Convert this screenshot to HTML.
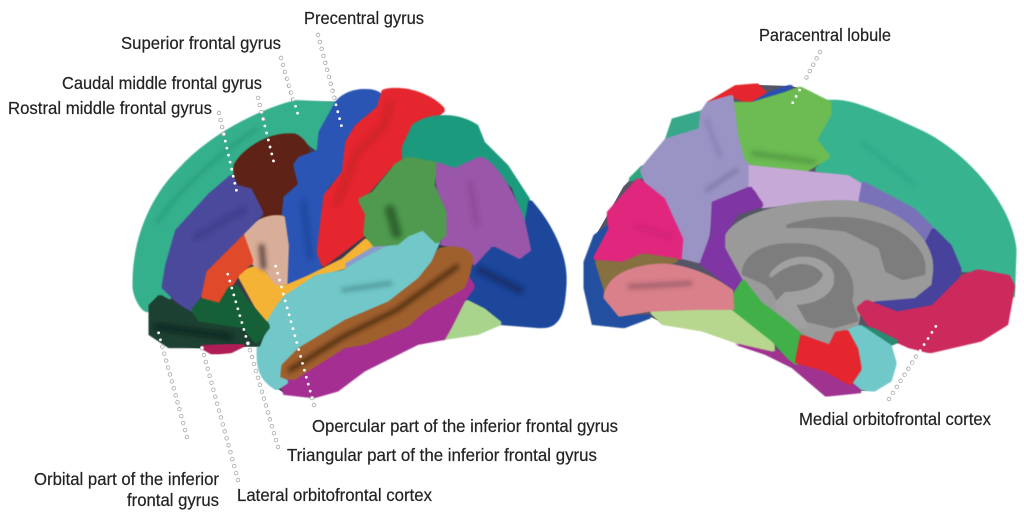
<!DOCTYPE html>
<html><head><meta charset="utf-8"><style>
html,body{margin:0;padding:0;background:#fff;width:1024px;height:512px;overflow:hidden}
svg{display:block}
text{font-family:"Liberation Sans",sans-serif;font-size:17.5px;fill:#222;stroke:#222;stroke-width:.2}
.rg path{filter:url(#d)}
</style></head><body>
<svg width="1024" height="512" viewBox="0 0 1024 512" xmlns="http://www.w3.org/2000/svg">
<defs>
<filter id="d" x="-10%" y="-10%" width="120%" height="120%"><feMorphology operator="dilate" radius="5"/><feGaussianBlur stdDeviation="1.2"/></filter>
<filter id="b" x="-30%" y="-30%" width="160%" height="160%"><feGaussianBlur stdDeviation="7"/></filter>
</defs>
<g transform="translate(130,70) scale(.33333)">
<path fill="#3a3a4a" d="M12,650 C10,520 60,390 150,300 C250,190 400,120 500,95 L620,95 C650,60 720,50 750,75 C800,45 900,70 930,125 L870,165 C920,135 1010,150 1040,170 L1060,220 L1130,290 L1195,395 C1250,450 1310,550 1305,640 C1300,720 1290,770 1230,770 L1110,760 L1040,790 L940,805 L860,820 L700,900 L620,960 L550,980 L465,970 L440,955 C400,930 380,900 385,830 L340,830 L300,845 L250,850 L215,835 L120,830 L60,790 L60,720 C40,720 20,700 12,650Z"/>
<g class="rg">
<path fill="#35b08c" d="M620,100 L500,95 C400,120 250,190 150,300 C60,390 10,520 12,650 C20,700 50,730 60,720 L120,680 L100,620 L140,490 L230,390 L300,330 L320,280 L400,210 L510,200 L565,240 L575,180 Z"/>
<path fill="#5e2314" d="M315,290 C340,240 420,190 490,195 C530,210 545,260 530,270 L495,280 L510,340 L465,380 L455,435 L400,440 L360,395 L315,345 Z"/>
<path fill="#2a55b5" d="M620,100 C650,60 720,50 750,75 L745,110 L680,170 L650,230 L640,300 L590,350 L585,400 L565,545 L570,590 C560,610 500,640 468,645 L472,530 L460,440 L465,385 L510,345 L495,285 L510,265 L565,245 L570,190 Z"/>
<path fill="#e5282f" d="M760,65 C800,45 900,70 940,120 L830,210 L820,270 L780,290 L700,380 L705,490 L640,540 L580,585 L565,545 L585,380 L640,310 L650,220 L680,170 L745,115 Z"/>
<path fill="#1d9a7e" d="M820,235 L850,170 C900,130 980,130 1040,170 L1060,220 L1130,290 L1195,390 L1185,455 L1150,350 L1050,265 L975,295 L915,280 L880,265 L820,270 Z"/>
<path fill="#9a57a8" d="M915,280 L975,300 L1050,265 C1100,280 1170,400 1210,545 L1170,575 L1090,535 L1040,590 L1015,550 L970,530 L935,520 L950,480 L930,400 Z"/>
<path fill="#1d479b" d="M1200,395 C1250,450 1310,550 1305,640 C1300,720 1290,770 1230,770 L1110,760 L1060,720 L1000,690 L1030,640 L1015,600 L1040,590 L1090,535 L1170,575 L1210,545 L1190,450 Z"/>
<path fill="#a9d48b" d="M1010,695 L1060,720 L1110,760 L1040,790 L940,805 L960,770 Z"/>
<path fill="#a52f92" d="M1010,620 L1030,650 L1000,690 L960,770 L940,805 L860,820 L700,900 L620,960 L550,980 L465,970 L450,930 L490,920 L590,860 L830,770 L880,710 Z"/>
<path fill="#a0602f" d="M930,540 C970,525 1020,540 1025,570 L1015,610 L1000,650 L880,720 L830,765 L700,820 L640,830 L490,925 L450,920 L450,880 L500,830 L640,740 L780,680 L870,610 Z"/>
<path fill="#f5b335" d="M325,610 L385,590 L430,640 L470,650 L540,620 L640,570 L710,510 L735,530 L660,585 L560,620 L470,680 L420,760 L380,710 Z"/>
<path fill="#8a9ccc" d="M650,585 L740,530 L785,530 L720,575 L680,605 Z"/>
<path fill="#72c8c8" d="M880,470 L925,515 L900,570 L860,620 L770,690 L640,745 L500,830 L450,880 L445,925 L470,935 L440,955 C400,930 380,900 385,830 C410,760 440,710 470,680 L560,620 L640,605 L720,560 L800,520 L830,495 Z"/>
<path fill="#4f9a4f" d="M800,285 L835,265 L915,280 L910,350 L945,430 L945,490 L920,515 L880,475 L830,495 L800,520 L735,525 L705,490 L710,430 L690,390 L730,370 Z"/>
<path fill="#d9ae98" d="M335,490 C380,450 440,430 460,445 L472,530 L468,640 L440,640 L410,600 L385,590 L365,575 L340,520 Z"/>
<path fill="#e04a2a" d="M335,490 L365,575 L325,610 L300,650 L270,705 L225,690 L210,660 L225,600 Z"/>
<path fill="#4b4a9c" d="M240,375 L305,320 L320,350 L360,360 L395,430 L335,490 L225,600 L210,670 L190,730 L130,680 L100,650 L110,590 L140,485 L190,430 Z"/>
<path fill="#1c3f30" d="M60,710 L90,680 L190,735 L300,760 L340,775 L410,760 L385,825 L340,825 L220,830 L120,830 L60,790 Z"/>
<path fill="#146038" d="M190,720 L215,690 L270,705 L300,655 L320,650 L345,690 L415,770 L380,815 L340,770 L210,750 Z"/>
<path fill="#b01f55" d="M215,830 L340,825 L300,845 L250,850 Z"/>
</g>
</g>
<g transform="translate(130,70) scale(.33333)" fill="none" filter="url(#b)" stroke-linecap="round">
<path stroke="#3a2a28" stroke-width="18" opacity=".7" d="M395,530 L400,590"/>
<path stroke="#2a1a08" stroke-width="14" opacity=".7" d="M480,900 L640,800 L800,720 L980,590"/>
<path stroke="#1a3a1a" stroke-width="30" opacity=".55" d="M780,420 L800,490"/>
<path stroke="#0c2050" stroke-width="24" opacity=".55" d="M1050,600 L1170,660"/>
<path stroke="#306c70" stroke-width="14" opacity=".5" d="M640,660 L780,640"/>
<path stroke="#0a1a12" stroke-width="18" opacity=".55" d="M80,770 L300,800"/>
<path stroke="#1a6a50" stroke-width="6" opacity=".4" d="M80,460 C130,380 230,280 380,175"/>
<path stroke="#a02020" stroke-width="20" opacity=".3" d="M780,100 L760,170 L680,250 L620,400"/>
<path stroke="#102a70" stroke-width="20" opacity=".3" d="M520,400 L540,560"/>
<path stroke="#6a2c70" stroke-width="16" opacity=".25" d="M1020,340 L1040,460"/>
<path stroke="#2a2a70" stroke-width="18" opacity=".35" d="M200,500 L340,420"/>
</g>
<g transform="translate(580,70) scale(.33333)">
<path fill="#555566" d="M15,580 L45,500 L85,430 L130,350 L190,290 L260,210 L280,150 L370,125 L385,100 L470,50 L530,45 L635,48 L660,55 L745,95 C800,85 900,130 1030,190 C1150,250 1290,400 1305,540 L1300,650 L1280,760 L1200,810 L1050,845 L990,825 L930,815 L945,880 L930,930 L880,960 L830,965 L740,975 L640,890 L560,850 L470,815 L370,780 L250,760 L210,740 L130,770 L40,760 L15,650 Z"/>
<g class="rg">
<path fill="#38b390" d="M745,95 C800,85 900,130 1030,190 C1150,250 1290,400 1305,540 L1300,680 L1280,620 L1190,605 L1140,600 L1110,530 L1060,480 L850,340 L810,320 L710,300 L745,260 L705,210 L750,120 Z"/>
<path fill="#38a88a" d="M260,210 L280,150 L370,125 L360,180 Z"/>
<path fill="#2ba47e" d="M130,350 L190,290 L185,320 L150,330 Z"/>
<path fill="#e5282f" d="M385,100 L470,50 L530,45 L560,75 L510,100 L470,80 Z"/>
<path fill="#2a50b0" d="M520,100 L570,70 L635,48 L600,70 L550,95 Z"/>
<path fill="#6cbb52" d="M460,100 L520,100 L620,70 L660,55 L750,100 L750,130 L705,210 L745,260 L670,305 L580,300 L500,280 L470,200 Z"/>
<path fill="#9a94c4" d="M385,100 L455,80 L470,200 L490,275 L510,290 L510,350 L400,400 L380,520 L360,575 L300,560 L305,510 L250,390 L200,340 L185,300 L260,210 L360,180 L365,130 Z"/>
<path fill="#c6a9d6" d="M510,290 L650,305 L800,320 L850,350 L840,395 L690,395 L550,410 L530,360 L510,350 Z"/>
<path fill="#7a72b8" d="M850,340 L1000,420 L1060,480 L1040,520 L1000,470 L900,420 L840,395 Z"/>
<path fill="#46429c" d="M1060,480 L1110,530 L1140,600 L1130,625 L1060,710 L950,730 L860,715 L840,700 L1000,680 L1050,640 L1055,570 L1040,520 Z"/>
<path fill="#7f36a3" d="M400,400 L510,355 L545,405 L470,430 L440,480 L435,520 L490,630 L470,660 L365,580 L395,500 Z"/>
<path fill="#9a9a9a" d="M440,500 C470,440 600,395 800,395 C950,410 1060,510 1055,600 L1050,640 L1000,680 L880,690 L840,710 L830,770 L770,785 L750,825 L670,790 L620,770 L550,700 L495,630 L440,530 Z"/>
<path fill="#7d7d7d" d="M620,470 C700,440 830,430 940,480 C1010,520 1040,570 1030,610 L970,625 L920,600 L900,530 L800,480 L700,470 Z"/>
<path fill="#7d7d7d" d="M490,610 C500,540 590,510 700,530 C800,570 830,640 810,690 L830,750 L760,770 L680,750 L600,700 L580,660 L560,640 Z"/>
<path fill="#a0a0a0" d="M570,620 C620,570 700,560 735,610 C730,650 680,670 620,670 L590,700 L610,770 L680,770 L640,700 C720,700 780,650 750,600 C710,550 620,550 570,620 Z"/>
<path fill="#cc2c5c" d="M835,715 L860,695 L950,730 L1060,710 L1150,620 L1195,603 L1285,620 L1300,650 L1280,760 L1200,810 L1050,845 L990,830 L880,780 Z"/>
<path fill="#2a8a70" d="M840,770 L880,780 L950,815 L925,825 Z"/>
<path fill="#6fc8c8" d="M800,785 L840,770 L930,830 L945,880 L930,930 L880,960 L830,955 L815,940 L840,895 L830,840 Z"/>
<path fill="#a03090" d="M470,820 L580,840 L650,880 L740,905 L810,940 L840,965 L740,975 L640,890 L560,850 Z"/>
<path fill="#b7d68e" d="M215,725 L350,700 L460,715 L580,810 L580,840 L470,815 L370,780 L250,760 Z"/>
<path fill="#42b04a" d="M490,635 L460,680 L460,715 L580,810 L625,860 L650,880 L665,800 L620,760 L540,700 Z"/>
<path fill="#e5282f" d="M665,800 L750,830 L770,790 L800,785 L830,840 L840,895 L810,940 L740,900 L650,875 Z"/>
<path fill="#2050a0" d="M85,470 L45,500 L15,580 L15,650 L40,760 L130,770 L210,740 L120,735 L75,690 L50,575 L45,550 Z"/>
<path fill="#e0287d" d="M45,565 L90,480 L85,430 L175,330 L250,390 L305,510 L300,565 L200,555 L130,575 Z"/>
<path fill="#86703f" d="M50,575 L130,580 L190,555 L290,570 L250,585 L150,590 L80,670 Z"/>
<path fill="#d9808a" d="M75,680 C90,620 150,590 250,585 C330,590 410,630 455,665 L458,715 L350,715 L210,720 L120,735 Z"/>
</g>
</g>
<g transform="translate(580,70) scale(.33333)" fill="none" filter="url(#b)" stroke-linecap="round">
<path stroke="#5a3040" stroke-width="14" opacity=".45" d="M150,650 L330,640"/>
<path stroke="#3a7a30" stroke-width="16" opacity=".45" d="M520,250 L700,275"/>
<path stroke="#5a5a80" stroke-width="12" opacity=".45" d="M380,360 L470,300"/>
<path stroke="#5a5a90" stroke-width="10" opacity=".35" d="M380,150 L420,260"/>
<path stroke="#a01a60" stroke-width="12" opacity=".25" d="M170,470 L270,500"/>
<path stroke="#1a7a60" stroke-width="10" opacity=".2" d="M850,220 L1000,340"/>
</g>
<g fill="none" stroke-linecap="round" stroke-dasharray="0 7.2">
<g stroke="#a9a9a9" stroke-width="4.4">
<path d="M318,35 L335,100"/><path d="M281,58 L294,103"/><path d="M258,98 L264,122"/><path d="M219,113 L225,140"/>
<path d="M314,405 L311,394"/><path d="M278,447 L247,340"/><path d="M238,480 L202,348"/><path d="M187,437 L160.5,340"/>
<path d="M820,52 L804,82"/><path d="M889,399 L919,352"/>
</g>
<g stroke="#fff" stroke-width="2.8">
<path d="M318,35 L342,128"/><path d="M281,58 L299,118"/><path d="M258,98 L274,163"/><path d="M219,113 L237,193"/>
<path d="M314,405 L274,260"/><path d="M278,447 L226,268"/><path d="M238,480 L202,348"/><path d="M187,437 L157,327"/>
<path d="M820,52 L792,104"/><path d="M889,399 L938,323"/>
</g>
</g>
<text x="304" y="24" textLength="120" lengthAdjust="spacingAndGlyphs">Precentral gyrus</text>
<text x="121" y="49" textLength="160" lengthAdjust="spacingAndGlyphs">Superior frontal gyrus</text>
<text x="62" y="89" textLength="200" lengthAdjust="spacingAndGlyphs">Caudal middle frontal gyrus</text>
<text x="8" y="114" textLength="204" lengthAdjust="spacingAndGlyphs">Rostral middle frontal gyrus</text>
<text x="759" y="41" textLength="132" lengthAdjust="spacingAndGlyphs">Paracentral lobule</text>
<text x="312" y="432" textLength="306" lengthAdjust="spacingAndGlyphs">Opercular part of the inferior frontal gyrus</text>
<text x="287" y="461" textLength="310" lengthAdjust="spacingAndGlyphs">Triangular part of the inferior frontal gyrus</text>
<text x="34" y="485" textLength="185" lengthAdjust="spacingAndGlyphs">Orbital part of the inferior</text>
<text x="127" y="506" textLength="92" lengthAdjust="spacingAndGlyphs">frontal gyrus</text>
<text x="237" y="501" textLength="195" lengthAdjust="spacingAndGlyphs">Lateral orbitofrontal cortex</text>
<text x="799" y="425" textLength="192" lengthAdjust="spacingAndGlyphs">Medial orbitofrontal cortex</text>
</svg>
</body></html>
